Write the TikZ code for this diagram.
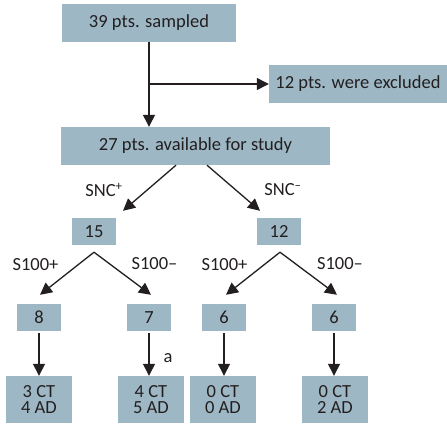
\documentclass[tikz,border=0pt]{standalone}
\usepackage{fontspec}
\setmainfont{Carlito}
\usepackage{tikz}
\usetikzlibrary{arrows.meta}
\definecolor{boxblue}{RGB}{157,183,196}
\definecolor{inkgray}{RGB}{35,31,32}

\begin{document}
\begin{tikzpicture}[line join=miter, x=1pt, y=-1pt,
    box/.style={fill=boxblue, text=inkgray, inner sep=0pt,
                font=\fontsize{18.5}{16.5}\selectfont, align=center},
    wide/.style={box, minimum height=38pt},
    small/.style={box, minimum width=44pt, minimum height=27pt},
    leaf/.style={box, minimum width=66pt, minimum height=47pt},
    arr/.style={-{Triangle[length=12pt,width=12pt]}, color=inkgray,
                line width=1.3pt},
    lbl/.style={text=inkgray, inner sep=0pt,
                font=\fontsize{18.5}{22}\selectfont}]
\useasboundingbox (0,0) rectangle (447,423);
% top of the chart
\node [wide, minimum width=174pt] (sampled) at (149,23) {39 pts. sampled};
\node [wide, minimum width=178pt] (excluded) at (358,84) {12 pts. were excluded};
\node [wide, minimum width=269pt] (avail) at (195.5,146) {27 pts. available for study};
\draw [arr] (sampled.south) -- (sampled.south |- avail.north);
\draw [arr] (sampled.south |- excluded.west) -- (excluded.west);
% SNC split
\node [small] (sncpos) at (94,231.5) {15};
\node [small] (sncneg) at (279,231.5) {12};
\draw [arr] ([xshift=-19.5pt]avail.south) -- ([xshift=29pt,yshift=7pt]sncpos.north);
\draw [arr] ([xshift=11.5pt]avail.south) -- ([xshift=-19pt,yshift=7pt]sncneg.north);
\node [lbl] (lsncpos) at (104,190) {SNC\textsuperscript{+}};
\node [lbl] (lsncneg) at (283,190) {SNC\textsuperscript{–}};
% S100 split
\node [small] (ppos) at (39,317.5) {8};
\node [small] (pneg) at (149,317.5) {7};
\node [small] (npos) at (224,317.5) {6};
\node [small] (nneg) at (334,317.5) {6};
\draw [arr] ([yshift=-7pt]sncpos.south) -- ([xshift=1pt,yshift=9pt]ppos.north);
\draw [arr] ([yshift=-7pt]sncpos.south) -- ([xshift=2pt,yshift=9pt]pneg.north);
\draw [arr] ([xshift=1pt,yshift=-7pt]sncneg.south) -- ([xshift=2pt,yshift=9pt]npos.north);
\draw [arr] ([xshift=1pt,yshift=-7pt]sncneg.south) -- ([xshift=3pt,yshift=9pt]nneg.north);
\node [lbl] (lppos) at (35.5,265) {S100+};
\node [lbl] (lpneg) at (154.5,264) {S100–};
\node [lbl] (lnpos) at (224.5,265) {S100+};
\node [lbl] (lnneg) at (340,264) {S100–};
% outcomes
\node [leaf] (rppos) at (39,399.5) {3 CT\\4 AD};
\node [leaf] (rpneg) at (151,399.5) {4 CT\\5 AD};
\node [leaf] (rnpos) at (223,399.5) {0 CT\\0 AD};
\node [leaf] (rnneg) at (335,399.5) {0 CT\\2 AD};
\foreach \a/\b in {ppos/rppos, pneg/rpneg, npos/rnpos, nneg/rnneg}
\draw [arr] ([yshift=-2pt]\a.south) -- (\a.south |- \b.north) ;
\node [lbl] (lnote) at (168,358) {a};
\end{tikzpicture}
\end{document}
